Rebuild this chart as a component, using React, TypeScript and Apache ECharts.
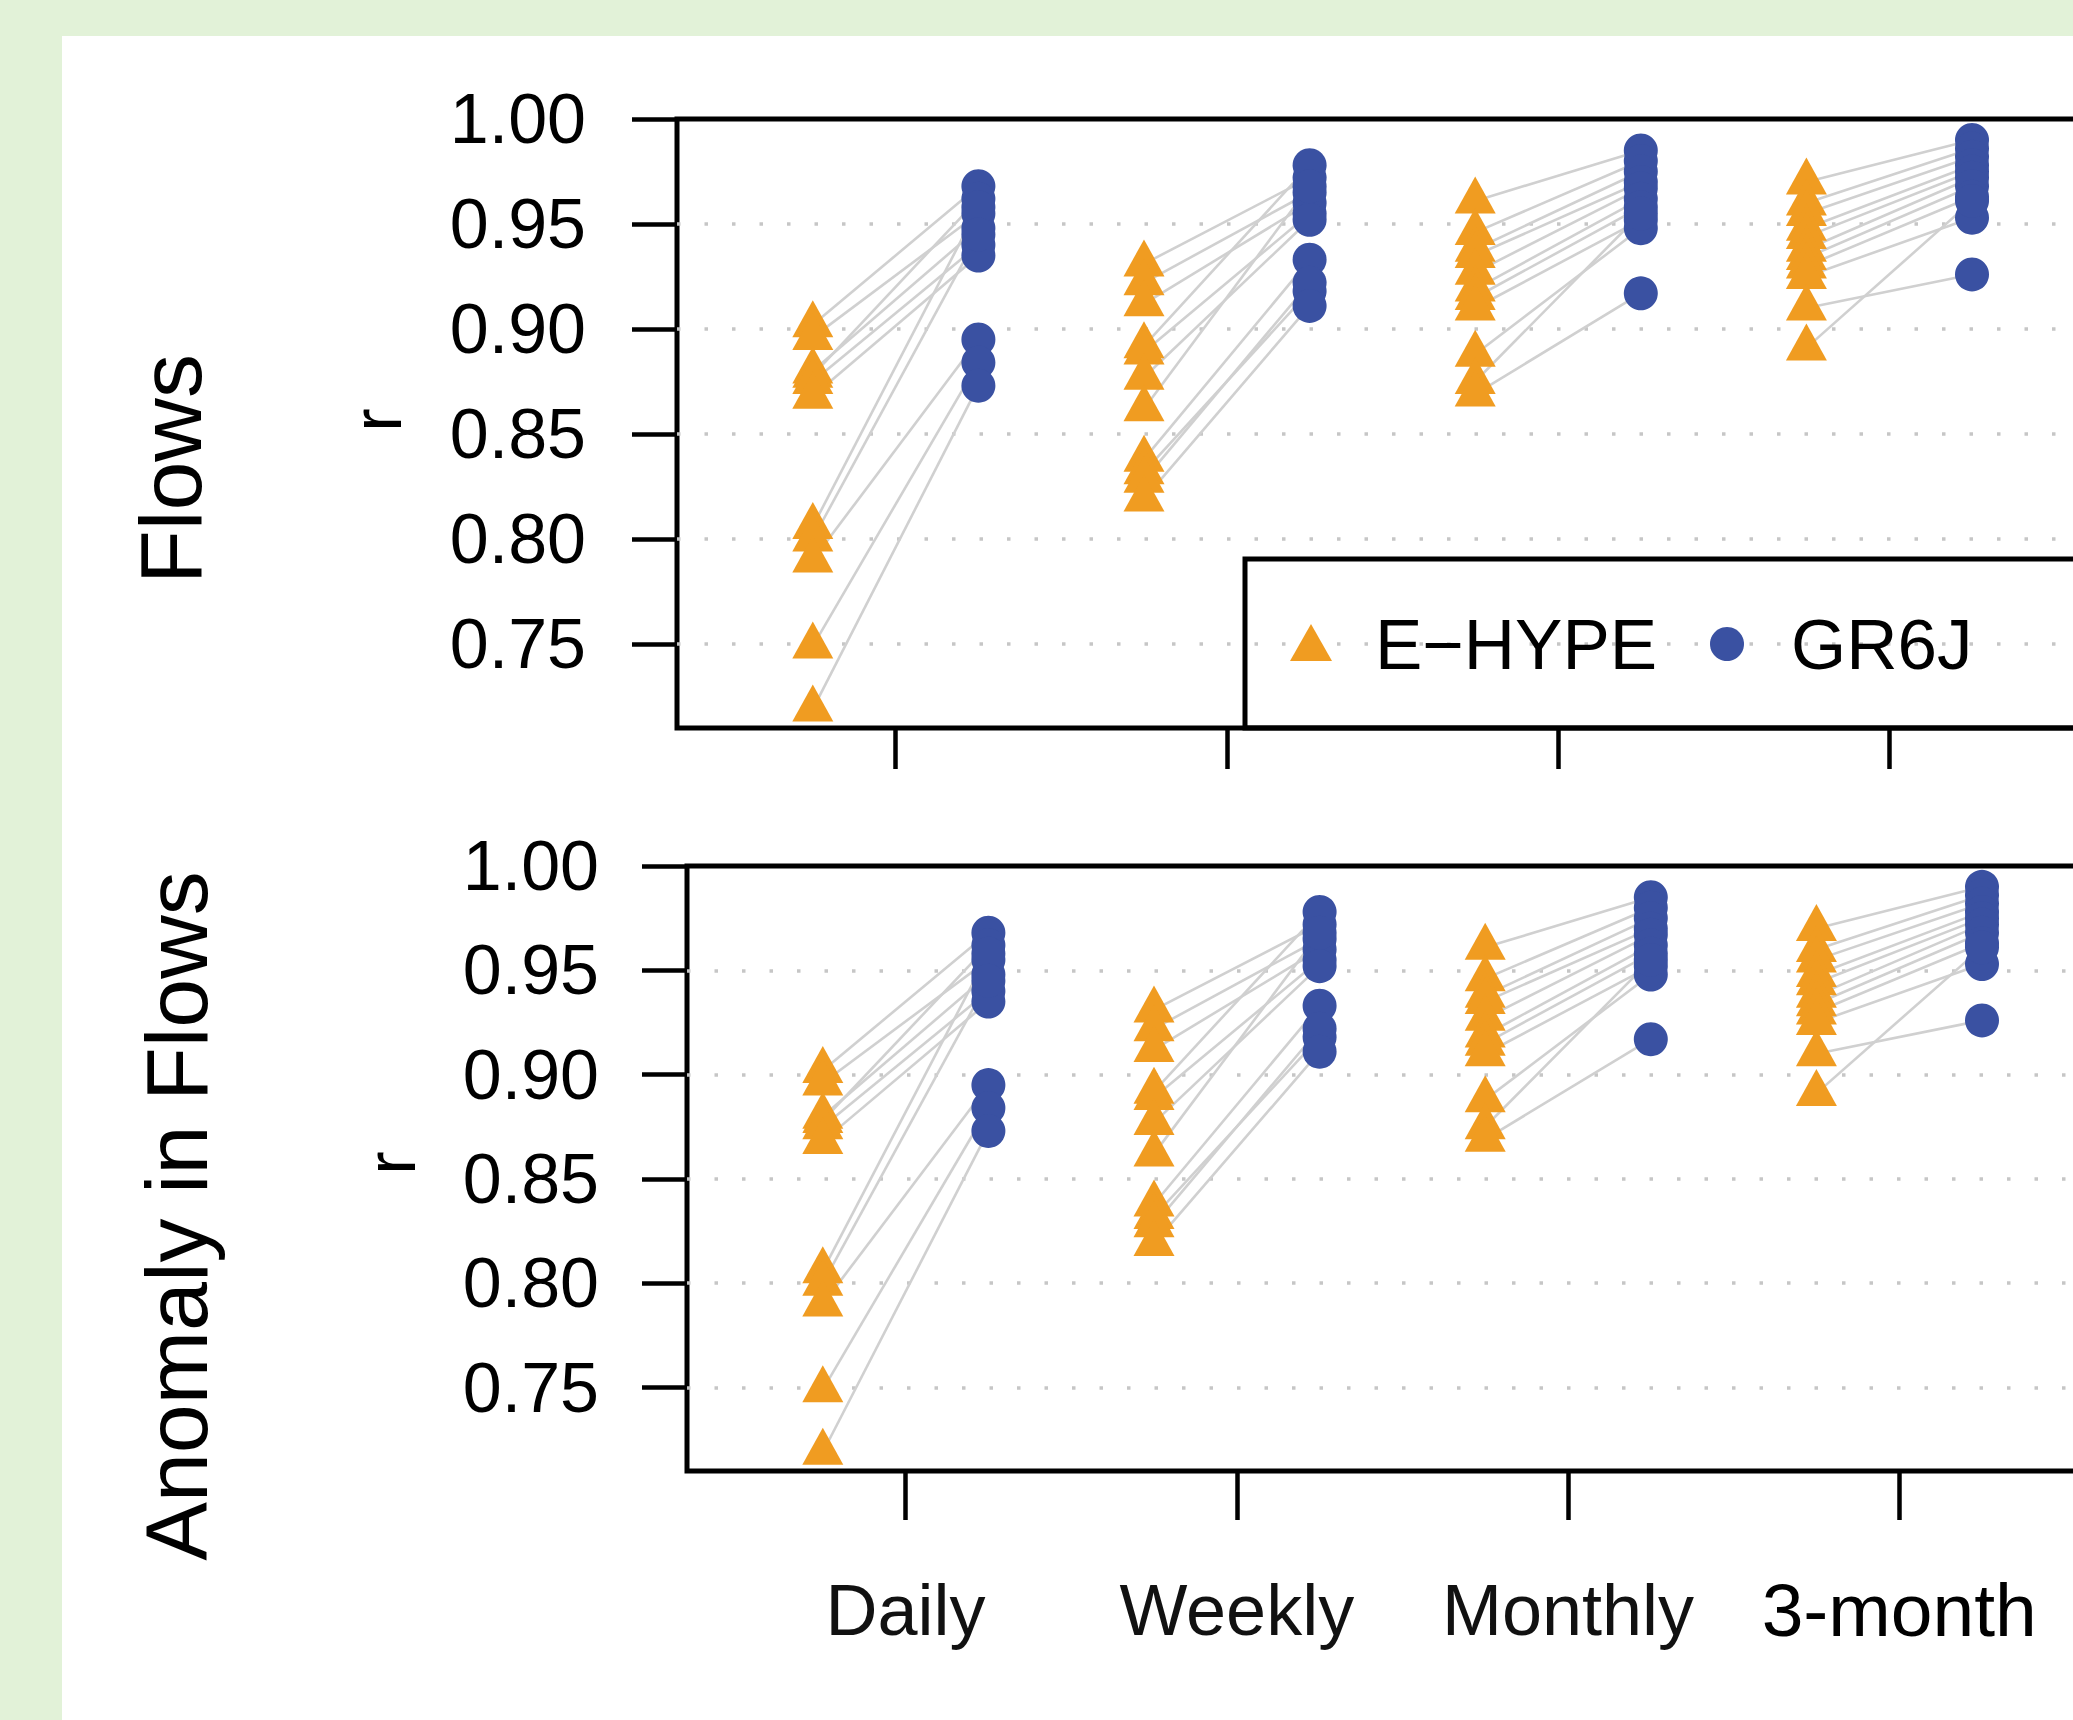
import React, { useEffect, useRef } from 'react';
import * as echarts from 'echarts';

// ---------- data ----------
const categories = ['Daily', 'Weekly', 'Monthly', '3-month'];
const categoryPositions = [1, 2, 3, 4];
const modelOffset = 0.25; // E-HYPE left of tick, GR6J right of tick
const yTickValues = [0.75, 0.8, 0.85, 0.9, 0.95, 1.0];
const gridLineValues = [0.75, 0.8, 0.85, 0.9, 0.95];

// Flows panel: r per station (rows = time scale, columns = station)
const flowsEHYPE = [
  [0.902, 0.896, 0.880, 0.878, 0.875, 0.868, 0.806, 0.800, 0.790, 0.749, 0.719],
  [0.931, 0.922, 0.912, 0.892, 0.889, 0.877, 0.862, 0.838, 0.832, 0.828, 0.819],
  [0.961, 0.946, 0.938, 0.935, 0.927, 0.919, 0.915, 0.910, 0.888, 0.875, 0.869],
  [0.970, 0.960, 0.955, 0.948, 0.944, 0.938, 0.934, 0.930, 0.925, 0.910, 0.891],
];
const flowsGR6J = [
  [0.968, 0.955, 0.948, 0.962, 0.940, 0.935, 0.958, 0.945, 0.895, 0.884, 0.873],
  [0.972, 0.965, 0.960, 0.978, 0.955, 0.952, 0.968, 0.933, 0.918, 0.922, 0.911],
  [0.985, 0.980, 0.975, 0.970, 0.967, 0.962, 0.958, 0.952, 0.948, 0.955, 0.917],
  [0.990, 0.986, 0.982, 0.978, 0.975, 0.972, 0.968, 0.963, 0.953, 0.926, 0.961],
];

// Anomaly in Flows panel
const anomalyEHYPE = [
  [0.902, 0.896, 0.880, 0.878, 0.875, 0.868, 0.806, 0.800, 0.790, 0.749, 0.719],
  [0.931, 0.922, 0.912, 0.892, 0.889, 0.877, 0.862, 0.838, 0.832, 0.828, 0.819],
  [0.961, 0.946, 0.938, 0.935, 0.927, 0.919, 0.915, 0.910, 0.888, 0.875, 0.869],
  [0.970, 0.960, 0.955, 0.948, 0.944, 0.938, 0.934, 0.930, 0.925, 0.910, 0.891],
];
const anomalyGR6J = [
  [0.968, 0.955, 0.948, 0.962, 0.940, 0.935, 0.958, 0.945, 0.895, 0.884, 0.873],
  [0.972, 0.965, 0.960, 0.978, 0.955, 0.952, 0.968, 0.933, 0.918, 0.922, 0.911],
  [0.985, 0.980, 0.975, 0.970, 0.967, 0.962, 0.958, 0.952, 0.948, 0.955, 0.917],
  [0.990, 0.986, 0.982, 0.978, 0.975, 0.972, 0.968, 0.963, 0.953, 0.926, 0.961],
];

// ---------- styles ----------
const ORANGE = '#F09C21';
const BLUE = '#3A51A2';
const LINK = '#d0d0d0';
const DOT = '#c6c6c6';
const FONT = '"Liberation Sans", Arial, Helvetica, sans-serif';

function panelSeries(p: number, eh: number[][], gr: number[][]) {
  const ehData: number[][] = [];
  const grData: number[][] = [];
  const links: any[] = [];
  eh.forEach((row, ci) => {
    row.forEach((v, si) => {
      const g = gr[ci][si];
      const xe = categoryPositions[ci] - modelOffset;
      const xg = categoryPositions[ci] + modelOffset;
      ehData.push([xe, v]);
      grData.push([xg, g]);
      links.push({ coords: [[xe, v], [xg, g]] });
    });
  });
  return [
    {
      type: 'scatter',
      xAxisIndex: p,
      yAxisIndex: p,
      data: [],
      silent: true,
      z: 1,
      markLine: {
        silent: true,
        z: 1,
        symbol: ['none', 'none'],
        label: { show: false },
        emphasis: { disabled: true },
        lineStyle: { type: [3.5, 24], color: DOT, width: 3.5, cap: 'butt' },
        data: gridLineValues.map((v) => ({ yAxis: v })),
      },
    },
    {
      type: 'lines',
      coordinateSystem: 'cartesian2d',
      xAxisIndex: p,
      yAxisIndex: p,
      silent: true,
      z: 2,
      lineStyle: { color: LINK, width: 2.6, opacity: 1, curveness: 0 },
      data: links,
    },
    {
      name: 'E-HYPE',
      type: 'scatter',
      xAxisIndex: p,
      yAxisIndex: p,
      symbol: 'triangle',
      symbolSize: [41, 37],
      symbolOffset: [0, -6],
      itemStyle: { color: ORANGE, opacity: 1 },
      silent: true,
      z: 3,
      data: ehData,
    },
    {
      name: 'GR6J',
      type: 'scatter',
      xAxisIndex: p,
      yAxisIndex: p,
      symbol: 'circle',
      symbolSize: 34,
      itemStyle: { color: BLUE, opacity: 1 },
      silent: true,
      z: 4,
      data: grData,
    },
  ];
}

function yAxisFor(p: number, margin: number) {
  return {
    gridIndex: p,
    type: 'value',
    min: 0.71,
    max: 1.0,
    axisLine: { show: false },
    splitLine: { show: false },
    axisTick: {
      show: true,
      length: 45,
      customValues: yTickValues,
      lineStyle: { color: '#000', width: 4.5 },
    },
    axisLabel: {
      show: true,
      customValues: yTickValues,
      margin,
      fontSize: 70,
      fontFamily: FONT,
      color: '#000',
      hideOverlap: false,
      formatter: (v: number) => v.toFixed(2),
    },
  };
}

function xAxisFor(p: number, tickLen: number, showLabels: boolean) {
  return {
    gridIndex: p,
    type: 'value',
    min: 0.34,
    max: 5.66,
    position: 'bottom',
    axisLine: { show: false },
    splitLine: { show: false },
    axisTick: {
      show: true,
      length: tickLen,
      customValues: categoryPositions,
      lineStyle: { color: '#000', width: 4.5 },
    },
    axisLabel: showLabels
      ? {
          show: true,
          customValues: categoryPositions,
          margin: 97,
          fontSize: 72,
          lineHeight: 84,
          fontFamily: FONT,
          color: '#111',
          hideOverlap: false,
          formatter: (v: number) => {
            const name = categories[Math.round(v) - 1] || '';
            return name === '3-month' ? '{b|' + name + '}' : name;
          },
          rich: {
            b: { fontSize: 75, lineHeight: 84, fontFamily: FONT, color: '#000' },
          },
        }
      : { show: false },
  };
}

function buildOption() {
  const legendY = 608;
  const triH = 37;
  const triW = 42;
  const triX = 1249;
  return {
    animation: false,
    backgroundColor: '#ffffff',
    grid: [
      {
        left: 615, top: 83, width: 1762, height: 609, show: true,
        borderColor: '#000', borderWidth: 5, backgroundColor: 'transparent',
        containLabel: false, outerBoundsMode: 'none',
      },
      {
        left: 625, top: 830, width: 1762, height: 605, show: true,
        borderColor: '#000', borderWidth: 5, backgroundColor: 'transparent',
        containLabel: false, outerBoundsMode: 'none',
      },
    ],
    xAxis: [xAxisFor(0, 41, false), xAxisFor(1, 49, true)],
    yAxis: [yAxisFor(0, 91), yAxisFor(1, 88)],
    series: [
      ...panelSeries(0, flowsEHYPE, flowsGR6J),
      ...panelSeries(1, anomalyEHYPE, anomalyGR6J),
    ],
    graphic: [
      {
        type: 'text', x: 108, y: 433, rotation: Math.PI / 2, z: 10,
        style: { text: 'Flows', fontSize: 88, fontFamily: FONT, fill: '#000', textAlign: 'center', textVerticalAlign: 'middle', align: 'center', verticalAlign: 'middle' },
      },
      {
        type: 'text', x: 114, y: 1180, rotation: Math.PI / 2, z: 10,
        style: { text: 'Anomaly in Flows', fontSize: 88, fontFamily: FONT, fill: '#000', textAlign: 'center', textVerticalAlign: 'middle', align: 'center', verticalAlign: 'middle' },
      },
      {
        type: 'text', x: 315, y: 384, rotation: Math.PI / 2, z: 10,
        style: { text: 'r', fontSize: 70, fontFamily: FONT, fill: '#000', textAlign: 'center', textVerticalAlign: 'middle', align: 'center', verticalAlign: 'middle' },
      },
      {
        type: 'text', x: 329, y: 1127, rotation: Math.PI / 2, z: 10,
        style: { text: 'r', fontSize: 70, fontFamily: FONT, fill: '#000', textAlign: 'center', textVerticalAlign: 'middle', align: 'center', verticalAlign: 'middle' },
      },
      // legend frame
      {
        type: 'rect', z: 10,
        shape: { x: 1183, y: 523, width: 1300, height: 169 },
        style: { fill: 'none', stroke: '#000', lineWidth: 5 },
      },
      {
        type: 'polygon', z: 11,
        shape: { points: [[triX, legendY - 20], [triX - triW / 2, legendY - 20 + triH], [triX + triW / 2, legendY - 20 + triH]] },
        style: { fill: ORANGE },
      },
      {
        type: 'text', x: 1313, y: legendY, z: 11,
        style: { text: 'E\u2212HYPE', fontSize: 71, fontFamily: FONT, fill: '#000', textAlign: 'left', textVerticalAlign: 'middle', align: 'left', verticalAlign: 'middle' },
      },
      {
        type: 'circle', z: 11,
        shape: { cx: 1665, cy: legendY, r: 17 },
        style: { fill: BLUE },
      },
      {
        type: 'text', x: 1729, y: legendY, z: 11,
        style: { text: 'GR6J', fontSize: 71, fontFamily: FONT, fill: '#000', textAlign: 'left', textVerticalAlign: 'middle', align: 'left', verticalAlign: 'middle' },
      },
    ],
  };
}

export default function App() {
  const ref = useRef<HTMLDivElement>(null);
  useEffect(() => {
    document.body.style.margin = '0';
    const chart = echarts.init(ref.current as HTMLDivElement, null, { renderer: 'svg' });
    chart.setOption(buildOption() as any);
    return () => {
      chart.dispose();
    };
  }, []);
  return (
    <div style={{ position: 'relative', width: 2073, height: 1720, background: '#e2f2d8', overflow: 'hidden' }}>
      <div
        ref={ref}
        style={{ position: 'absolute', left: 62, top: 36, width: 2011, height: 1684, background: '#ffffff' }}
      />
    </div>
  );
}
